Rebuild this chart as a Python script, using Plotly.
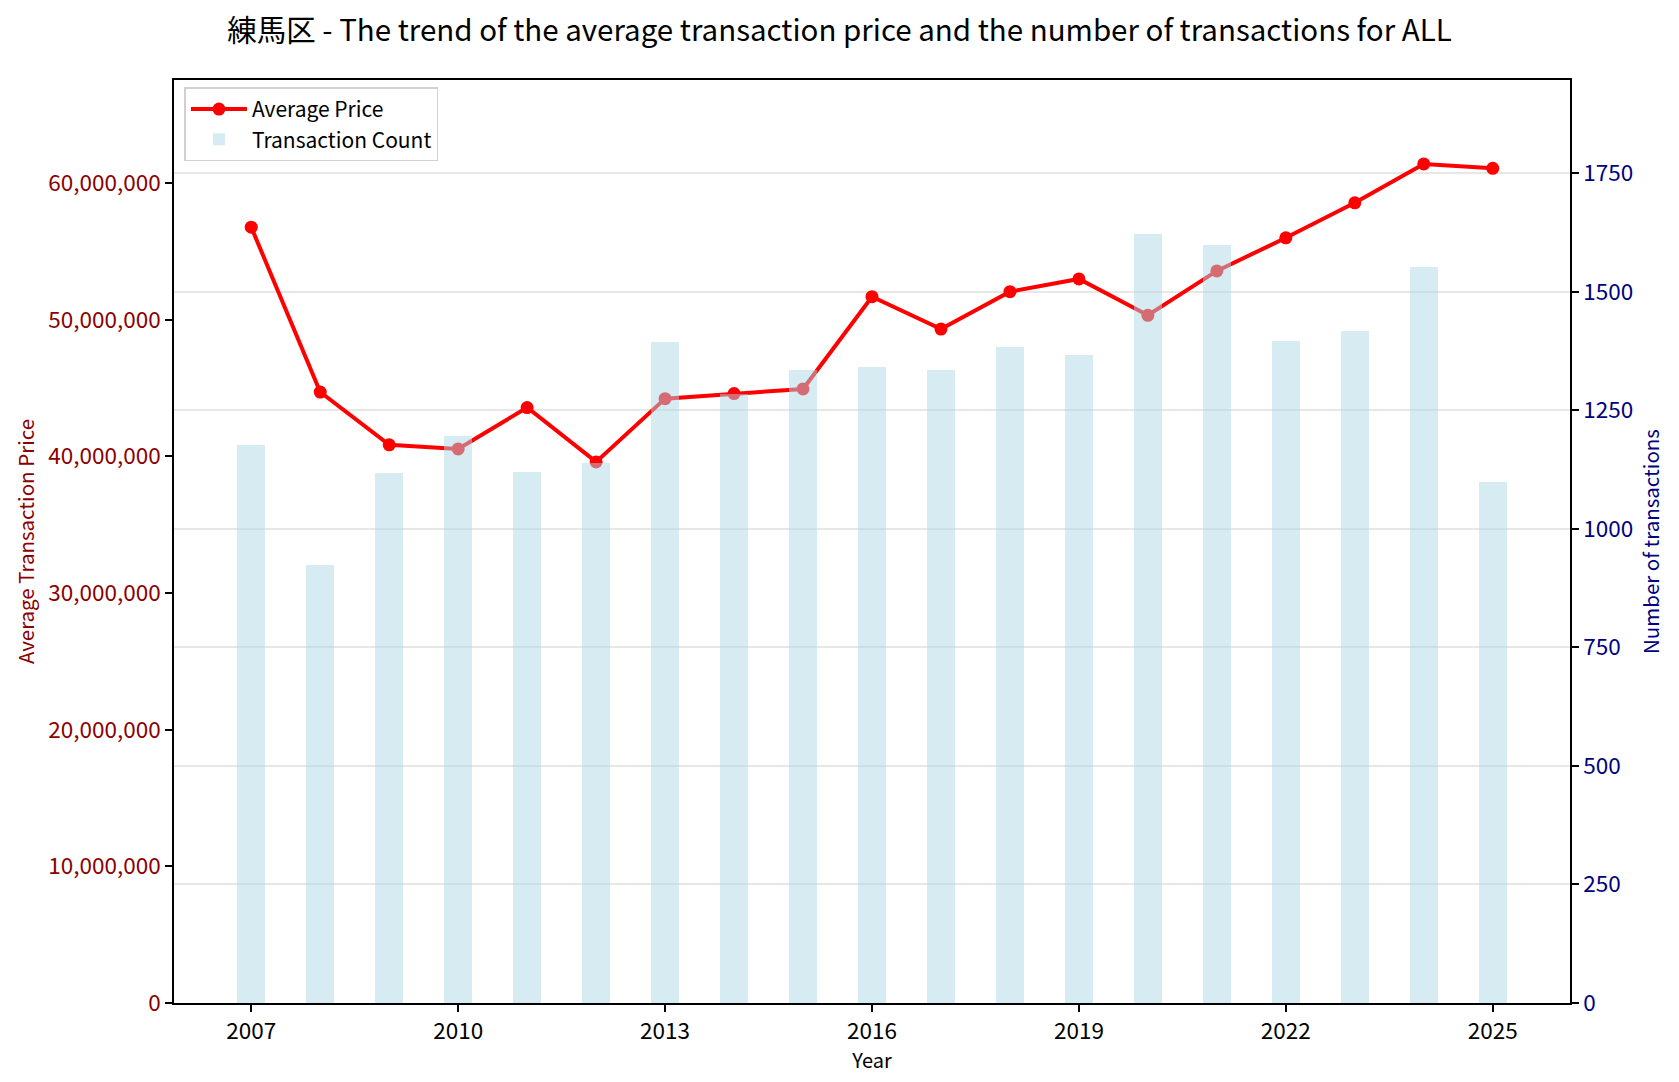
import plotly.graph_objects as go

years = list(range(2007, 2026))
avg_price = [56780000, 44710000, 40850000, 40550000, 43580000, 39600000, 44230000,
             44600000, 44940000, 51690000, 49320000, 52060000, 52990000, 50330000,
             53580000, 56000000, 58560000, 61410000, 61090000]
tx_count = [1177, 923, 1118, 1196, 1120, 1139, 1394, 1284, 1335, 1342, 1335, 1384,
            1367, 1622, 1599, 1396, 1418, 1553, 1099]
x_ticks = [2007, 2010, 2013, 2016, 2019, 2022, 2025]
left_ticks = [0, 10000000, 20000000, 30000000, 40000000, 50000000, 60000000]
right_ticks = [0, 250, 500, 750, 1000, 1250, 1500, 1750]

FONT = "Noto Sans CJK JP"

fig = go.Figure()
fig.add_trace(go.Scatter(
    x=years, y=avg_price, name="Average Price", mode="lines+markers",
    line=dict(color="red", width=4), marker=dict(color="red", size=13),
    yaxis="y"))
fig.add_trace(go.Bar(
    x=years, y=tx_count, name="Transaction Count", width=0.4,
    marker=dict(color="rgba(173,216,230,0.5)", line=dict(width=0)),
    yaxis="y2"))

fig.update_layout(
    width=1679, height=1082,
    margin=dict(l=174, r=109, t=80, b=79),
    paper_bgcolor="white", plot_bgcolor="white",
    font=dict(family=FONT, size=21, color="black"),
    title=dict(text="練馬区 - The trend of the average transaction price and the number of transactions for ALL",
               x=0.5, xanchor="center", y=0.972, yanchor="middle",
               font=dict(family=FONT, size=29.5, color="black")),
    showlegend=True,
    legend=dict(x=0.0075, y=0.992, xanchor="left", yanchor="top",
                bgcolor="rgba(255,255,255,0.8)", bordercolor="#d0d0d0", borderwidth=1.5,
                font=dict(family=FONT, size=21), traceorder="normal", itemwidth=56),
    xaxis=dict(range=[2005.88, 2026.12], tickmode="array", tickvals=x_ticks,
               ticktext=[str(t) for t in x_ticks],
               showgrid=False, zeroline=False, showline=True, linecolor="black",
               linewidth=1.7, mirror=True, ticks="outside", ticklen=7, tickcolor="black",
               tickwidth=1.5, tickfont=dict(size=22.5),
               title=dict(text="Year", font=dict(size=20), standoff=8)),
    yaxis=dict(range=[0, 67551000], tickmode="array", tickvals=left_ticks,
               ticktext=[f"{v:,}" for v in left_ticks],
               showgrid=False, zeroline=False, showline=True, linecolor="black",
               linewidth=1.7, ticks="outside", ticklen=7, tickcolor="black", tickwidth=1.5,
               tickfont=dict(size=22.5, color="#8B0000"),
               title=dict(text="Average Transaction Price", font=dict(size=20.5, color="#8B0000"),
                          standoff=8)),
    yaxis2=dict(range=[0, 1946.4], overlaying="y", side="right", tickmode="array",
                tickvals=right_ticks, ticktext=[str(v) for v in right_ticks],
                showgrid=True, gridcolor="rgba(176,176,176,0.3)", gridwidth=1.7,
                zeroline=False, showline=True, linecolor="black", linewidth=1.7,
                ticks="outside", ticklen=7, tickcolor="black", tickwidth=1.5,
                tickfont=dict(size=22.5, color="#000080"),
                title=dict(text="Number of transactions", font=dict(size=20.5, color="#000080"),
                           standoff=12)),
    bargap=0,
)

fig.write_html("out.html")
